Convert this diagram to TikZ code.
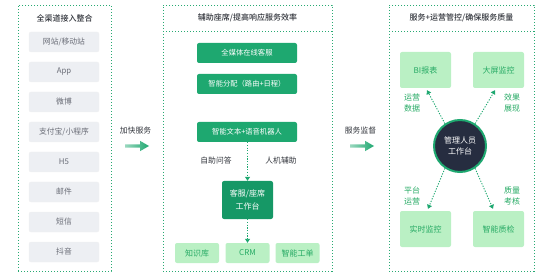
\documentclass[tikz,border=0pt]{standalone}
\usepackage{fontspec}
\setmainfont{Noto Sans CJK SC}
\newfontfamily\medfont{Noto Sans CJK SC Medium}
\usetikzlibrary{arrows.meta,calc}
\definecolor{gmain}{RGB}{30,168,112}
\definecolor{gdark}{RGB}{22,152,102}
\definecolor{glight}{RGB}{186,240,196}
\definecolor{gtext}{RGB}{38,170,100}
\definecolor{graybox}{RGB}{237,239,243}
\definecolor{graytext}{RGB}{105,108,118}
\definecolor{titletext}{RGB}{50,53,60}
\definecolor{navy}{RGB}{38,45,64}
\definecolor{borderg}{RGB}{40,170,115}
\tikzset{
  panel/.style={draw=borderg, line width=0.9pt, dash pattern=on 1.4pt off 1.6pt, minimum width=#1, minimum height=266pt, inner sep=0pt},
  titletxt/.style={font=\fontsize{8}{10}\selectfont\medfont, text=titletext},
  graybtn/.style={fill=graybox, draw=black!6, rounded corners=2pt, minimum width=70pt, minimum height=20pt, inner sep=0pt, font=\fontsize{7.8}{9}\selectfont, text=graytext},
  greenbtn/.style={fill=gmain, rounded corners=2pt, minimum width=100pt, minimum height=20pt, inner sep=0pt, font=\fontsize{7.3}{9}\selectfont, text=white},
  benchbox/.style={fill=gdark, rounded corners=2pt, minimum width=51pt, minimum height=38pt, inner sep=0pt, font=\fontsize{8}{13}\selectfont, text=white, align=center},
  lightbtn/.style={fill=glight, rounded corners=2pt, minimum width=#1, inner sep=0pt, font=\fontsize{8}{9}\selectfont, text=gtext},
  dotarrow/.style={draw=gmain, line width=0.9pt, dash pattern=on 1.2pt off 1.5pt, -{Triangle[length=4pt,width=5pt]}},
  plaintxt/.style={font=\fontsize{7.8}{9}\selectfont, text=titletext},
  greentxt/.style={font=\fontsize{8}{11}\selectfont, text=gtext, align=center},
}
\begin{document}
\begin{tikzpicture}[x=1pt,y=-1pt]
\useasboundingbox (0,0) rectangle (553,272);
% panels
\node[panel=93pt] (p1) at (64.5,138) {};
\node[panel=169pt] (p2) at (247.5,138) {};
\node[panel=145pt] (p3) at (461.5,138) {};
\draw[borderg, line width=0.9pt, dash pattern=on 1.4pt off 1.6pt] (163,31) -- (332,31);
\draw[borderg, line width=0.9pt, dash pattern=on 1.4pt off 1.6pt] (389,31) -- (534,31);
% titles
\node[titletxt] (t1) at (64.5,18) {全渠道接入整合};
\node[titletxt] (t2) at (247.5,17.5) {辅助座席/提高响应服务效率};
\node[titletxt] (t3) at (461.5,17.5) {服务+运营管控/确保服务质量};
% left buttons
\node[graybtn] (l1) at (64,42) {网站/移动站};
\node[graybtn] (l2) at (64,72) {App};
\node[graybtn] (l3) at (64,102) {微博};
\node[graybtn] (l4) at (64,132) {支付宝/小程序};
\node[graybtn] (l5) at (64,162) {H5};
\node[graybtn] (l6) at (64,192) {邮件};
\node[graybtn] (l7) at (64,222) {短信};
\node[graybtn] (l8) at (64,252) {抖音};
% between-panel arrows
\node[plaintxt] (lab1) at (135.5,131) {加快服务};
\node[plaintxt] (lab2) at (360.5,131) {服务监督};
\coordinate (a1) at (125,146);
\coordinate (a2) at (350,146);
\shade[left color=gmain!45, right color=gmain] ($(a1)+(0,-1.6)$) -- ++(15,0) -- ++(0,-3.6) -- ++(9,5.2) -- ++(-9,5.2) -- ++(0,-3.6) -- ++(-15,0) -- cycle;
\shade[left color=gmain!45, right color=gmain] ($(a2)+(0,-1.6)$) -- ++(15,0) -- ++(0,-3.6) -- ++(9,5.2) -- ++(-9,5.2) -- ++(0,-3.6) -- ++(-15,0) -- cycle;
% middle
\node[greenbtn] (m1) at (247,53) {全媒体在线客服};
\node[greenbtn] (m2) at (247,84) {智能分配（路由+日程）};
\node[greenbtn] (m3) at (247,132) {智能文本+语音机器人};
\node[benchbox] (wb) at (247.5,200) {客服/座席\\工作台};
\node[lightbtn=44pt, minimum height=20pt] (k1) at (197,253) {知识库};
\node[lightbtn=44pt, minimum height=20pt] (k2) at (247.5,253) {CRM};
\node[lightbtn=44pt, minimum height=20pt] (k3) at (297.5,253) {智能工单};
\node[plaintxt] (q1) at (216,161) {自助问答};
\node[plaintxt] (q2) at (281,161) {人机辅助};
\draw[dotarrow] (m3.south -| wb.north) -- (wb.north);
\draw[dotarrow] (wb.south) -- (k2.north);
% right
\node[lightbtn=51pt, minimum height=36pt] (bi) at (425.5,70) {BI报表};
\node[lightbtn=51pt, minimum height=36pt] (dp) at (498.5,70) {大屏监控};
\node[lightbtn=51pt, minimum height=36pt] (ss) at (425.5,229) {实时监控};
\node[lightbtn=51pt, minimum height=36pt] (zj) at (498.5,229) {智能质检};
\node[circle, fill=navy, draw=gmain, line width=2pt, minimum size=52pt, inner sep=0pt, font=\fontsize{8}{11.5}\selectfont, text=white, align=center] (mg) at (460,146) {管理人员\\工作台};
\draw[dotarrow] (mg.124) -- ($(bi.south)+(1.5,2)$);
\draw[dotarrow] (mg.56) -- ($(dp.south)+(-3.5,2)$);
\draw[dotarrow] (mg.236) -- ($(ss.north)+(2.5,-2)$);
\draw[dotarrow] (mg.304) -- ($(zj.north)+(-5.5,-2)$);
\node[greentxt] (r1) at (412,102.5) {运营\\数据};
\node[greentxt] (r2) at (512,102.5) {效果\\展现};
\node[greentxt] (r3) at (412,195.5) {平台\\运营};
\node[greentxt] (r4) at (512,195.5) {质量\\考核};
\end{tikzpicture}
\end{document}
